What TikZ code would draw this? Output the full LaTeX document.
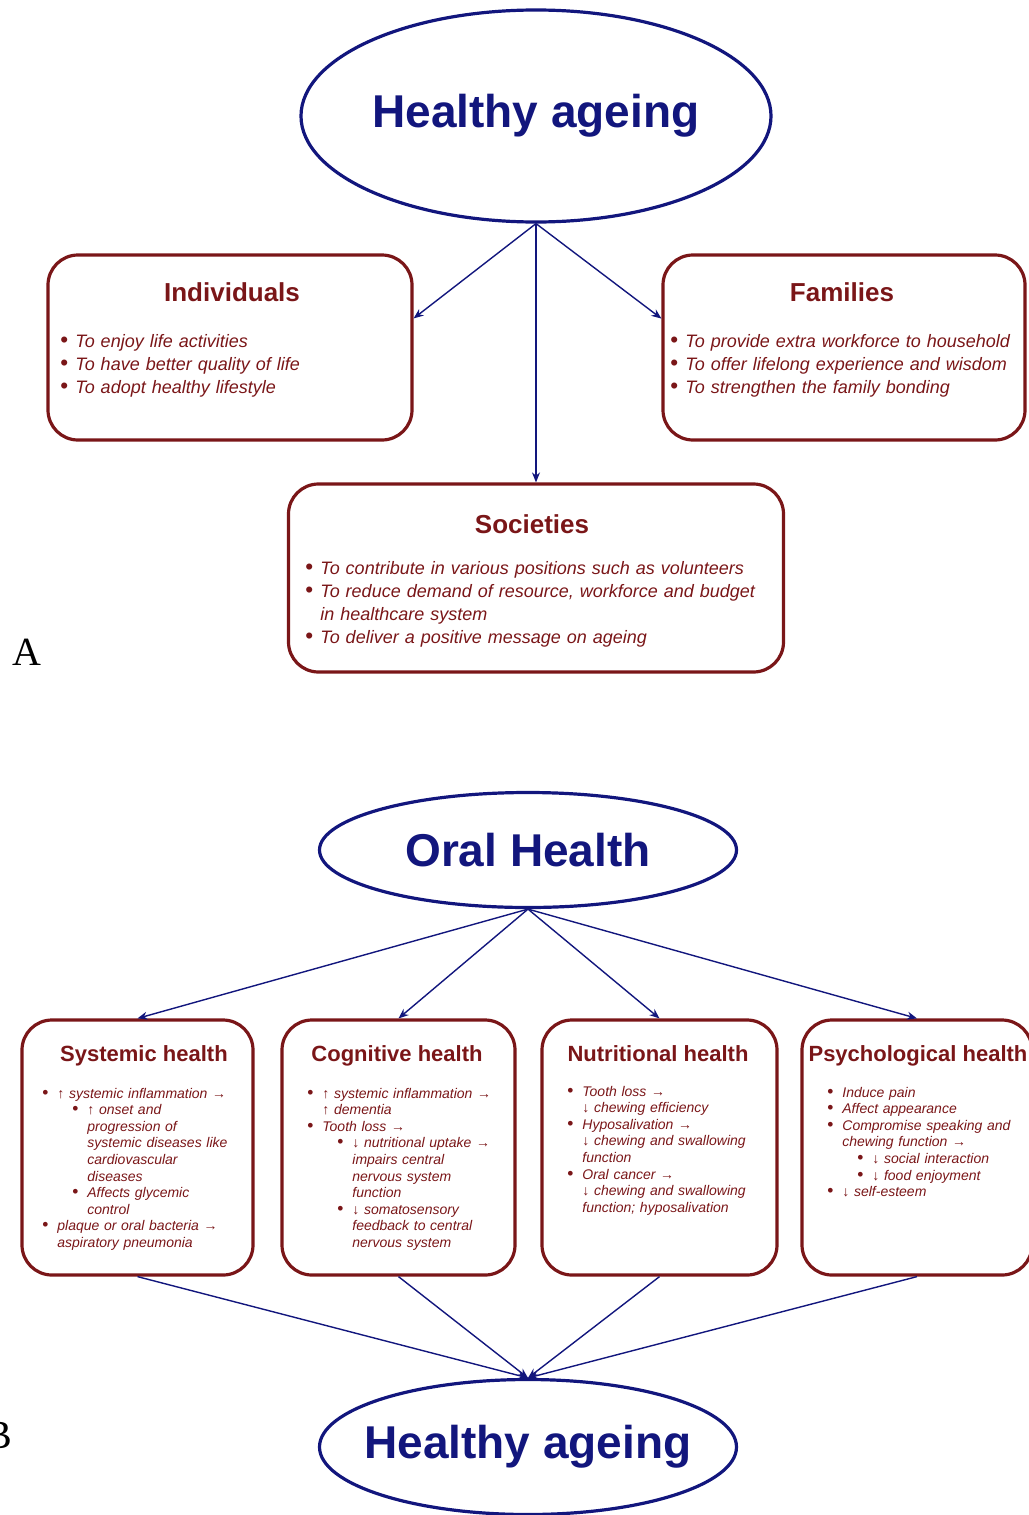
\documentclass[tikz,border=0pt]{standalone}
\usepackage{fontspec}
\setmainfont{Liberation Sans}
\newfontfamily\lettre{Liberation Serif}
\usepackage{tikz}
\usetikzlibrary{shapes.geometric,arrows.meta}
\definecolor{bordeaux}{RGB}{122,22,24}
\definecolor{marine}{RGB}{18,22,125}

% puces : niveau 1 et niveau 2
\newcommand{\rond}{\makebox[7.5pt][l]{\scalebox{1.25}{\textbullet}}}
\newcommand{\puce}[1]{\hangindent=7.5pt\hangafter=1\noindent\rond{\itshape #1}\par}
\newcommand{\spuce}[1]{\hangindent=22.5pt\hangafter=1\noindent\hspace*{15pt}\rond{\itshape #1}\par}

\begin{document}
\begin{tikzpicture}[x=0.5pt, y=-0.5pt,
  oval/.style={ellipse, draw=marine, line width=1.6pt, inner xsep=-20pt, inner ysep=0pt, text=marine, font=\fontsize{23}{27}\selectfont\bfseries},
  cadre/.style={draw=bordeaux, line width=1.6pt, rounded corners=15pt},
  titreA/.style={anchor=base, text=bordeaux, font=\fontsize{13}{15}\selectfont\bfseries},
  titreB/.style={anchor=base, text=bordeaux, font=\fontsize{11}{13}\selectfont\bfseries},
  listeA/.style={anchor=base west, inner sep=0pt, text=bordeaux, text width=240pt, execute at begin node=\raggedright, font=\fontsize{9}{11.5}\selectfont},
  listeB/.style={anchor=base west, inner sep=0pt, text=bordeaux, text width=120pt, execute at begin node=\raggedright, font=\fontsize{7}{8.3}\selectfont},
  fleche/.style={draw=marine, line width=0.7pt, -{Stealth[length=5pt,width=4pt]}}]
\useasboundingbox (0,0) rectangle (1028,1515);

% partie A
\node[oval, minimum width=235pt, minimum height=106pt] (vieil) at (536,116) {Healthy ageing};
\node[cadre, minimum width=182pt, minimum height=92.5pt] (indiv) at (230,347.5) {};
\node[cadre, minimum width=181pt, minimum height=92.5pt] (fam) at (844,347.5) {};
\node[cadre, minimum width=247.5pt, minimum height=94pt] (soc) at (536,578) {};
\draw[fleche] (vieil.south) -- (indiv.9);
\draw[fleche] (vieil.south) -- (fam.171);
\draw[fleche] (vieil.south) -- (soc.north);

\node[titreA] (indivT) at (232,301) {Individuals};
\node[listeA] (indivL) at (60,347) {\puce{To enjoy life activities}\puce{To have better quality of life}\puce{To adopt healthy lifestyle}};
\node[titreA] (famT) at (842,301) {Families};
\node[listeA] (famL) at (670,347) {\puce{To provide extra workforce to household}\puce{To offer lifelong experience and wisdom}\puce{To strengthen the family bonding}};
\node[titreA] (socT) at (532,533) {Societies};
\node[listeA] (socL) at (305,574) {\puce{To contribute in various positions such as volunteers}\puce{To reduce demand of resource, workforce and budget\newline in healthcare system}\puce{To deliver a positive message on ageing}};
\node[anchor=base west, inner sep=0pt, font=\lettre\fontsize{20}{24}\selectfont] (lblA) at (12,665) {A};

% partie B
\node[oval, minimum width=208.5pt, minimum height=57.5pt] (oral) at (528,850) {Oral Health};
\node[oval, minimum width=208.5pt, minimum height=67.5pt] (sain) at (528,1447) {Healthy ageing};
\foreach \nom/\cx/\w in {syst/137.5/115.5, cogn/398.5/116.5, nutr/659.5/117.5, psych/917/115}
  \node[cadre, minimum width=\w pt, minimum height=127.5pt] (\nom) at (\cx,1147.5) {};
\foreach \nom in {syst,cogn,nutr,psych}{
  \draw[fleche] (oral.south) -- (\nom.north);
  \draw[fleche] (\nom.south) -- (sain.north);}

\node[titreB] (systT) at (144,1061) {Systemic health};
\node[listeB] (systL) at (42,1098) {\puce{↑ systemic inflammation →}\spuce{↑ onset and\newline progression of\newline systemic diseases like\newline cardiovascular\newline diseases}\spuce{Affects glycemic\newline control}\puce{plaque or oral bacteria →\newline aspiratory pneumonia}};
\node[titreB] (cognT) at (397,1061) {Cognitive health};
\node[listeB] (cognL) at (307,1098) {\puce{↑ systemic inflammation →\newline ↑ dementia}\puce{Tooth loss →}\spuce{↓ nutritional uptake →\newline impairs central\newline nervous system\newline function}\spuce{↓ somatosensory\newline feedback to central\newline nervous system}};
\node[titreB] (nutrT) at (658,1061) {Nutritional health};
\node[listeB] (nutrL) at (567,1096) {\puce{Tooth loss →\newline ↓ chewing efficiency}\puce{Hyposalivation →\newline ↓ chewing and swallowing\newline function}\puce{Oral cancer →\newline ↓ chewing and swallowing\newline function; hyposalivation}};
\node[titreB] (psychT) at (918,1061) {Psychological health};
\node[listeB] (psychL) at (827,1097) {\puce{Induce pain}\puce{Affect appearance}\puce{Compromise speaking and\newline chewing function →}\spuce{↓ social interaction}\spuce{↓ food enjoyment}\puce{↓ self-esteem}};
\node[anchor=base west, inner sep=0pt, font=\lettre\fontsize{20}{24}\selectfont] (lblB) at (-15,1448) {B};
\end{tikzpicture}
\end{document}
